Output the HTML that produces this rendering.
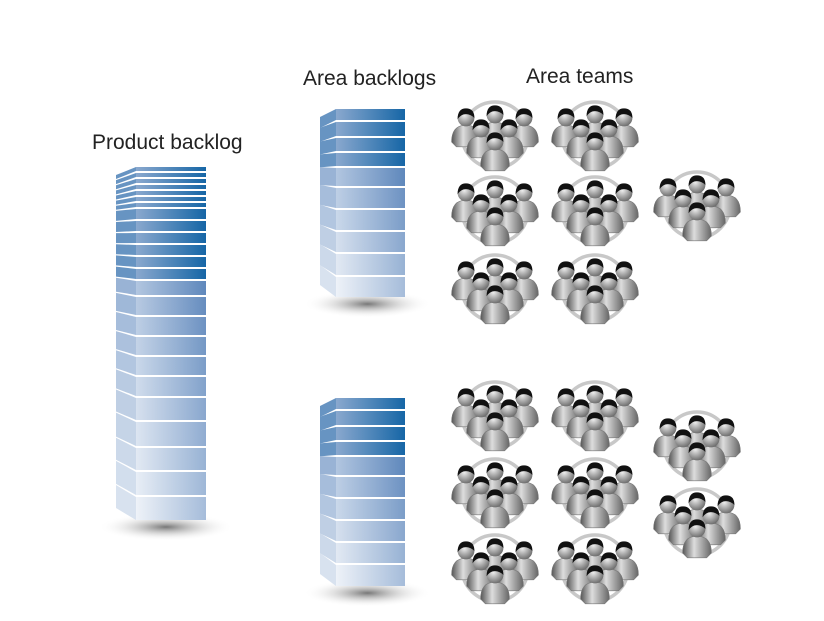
<!DOCTYPE html>
<html><head><meta charset="utf-8"><style>
html,body{margin:0;padding:0;background:#fff}
svg{display:block}
text{font-family:"Liberation Sans",sans-serif;font-size:21px;fill:#222}
</style></head><body>
<svg id="s" width="824" height="621" viewBox="0 0 824 621" xmlns="http://www.w3.org/2000/svg">
<defs>
<radialGradient id="sh" cx="50%" cy="50%" r="50%"><stop offset="0" stop-color="#555" stop-opacity=".8"/><stop offset="1" stop-color="#fff" stop-opacity="0"/></radialGradient>
<radialGradient id="hd" cx="40%" cy="35%" r="70%"><stop offset="0" stop-color="#eee"/><stop offset="1" stop-color="#666"/></radialGradient>
<linearGradient id="bd" x1="0" y1="0" x2="1" y2="0"><stop offset="0" stop-color="#555"/><stop offset=".4" stop-color="#ddd"/><stop offset="1" stop-color="#666"/></linearGradient>
<g id="p" transform="scale(1.2)">
<path d="M-12 20 Q-12 6 0 6 Q12 6 12 20 L8 24 L-8 24 Z" fill="url(#bd)" stroke="#777" stroke-width=".5"/>
<circle cx="0" cy="0" r="7" fill="url(#hd)"/>
<path d="M-7 1 Q-7 -8 0 -8 Q7 -8 7 0 Q3 -4 -2 -3 Q-5 -2 -7 1Z" fill="#111"/>
</g>
<g id="t">
<circle r="33" fill="none" stroke="#c8c8c8" stroke-width="3.5"/>
<use href="#p" x="-29" y="-17"/><use href="#p" x="29" y="-17"/><use href="#p" x="0" y="-20"/>
<use href="#p" x="-14" y="-6"/><use href="#p" x="14" y="-6"/><use href="#p" x="0" y="7"/>
</g>
</defs>
<text x="92" y="149">Product backlog</text>
<text x="303" y="85">Area backlogs</text>
<text x="526" y="83">Area teams</text>
</svg>
<script>
var s=document.getElementById('s'),ns='http://www.w3.org/2000/svg',gid=0;
function el(n,a){var e=document.createElementNS(ns,n);for(var k in a)e.setAttribute(k,a[k]);s.appendChild(e);return e}
function mixA(a,b,t){return a.map((v,i)=>Math.round(v+(b[i]-v)*t))}
function rgb(a){return 'rgb('+a.join(',')+')'}
var DL=[138,168,206],DR=[22,102,166],ML=[178,198,224],MR=[95,136,188],LL=[238,242,248],LR=[165,188,218];
function stack(S0,F0,F1,ys,darkN){
 var n=ys.length-1;
 el('ellipse',{cx:(S0+F1)/2+5,cy:ys[n]+6,rx:(F1-S0)*0.75,ry:14,fill:'url(#sh)'});
 for(var i=0;i<n;i++){
  var y0=ys[i]+1,y1=ys[i+1]-1,dark=i<darkN;
  var t=dark?0:(i-darkN)/Math.max(1,(n-1-darkN));
  var L=dark?DL:mixA(ML,LL,t), R=dark?DR:mixA(MR,LR,t);
  var id='g'+(gid++);
  var g=el('linearGradient',{id:id,x1:0,y1:0,x2:1,y2:0});
  var a=document.createElementNS(ns,'stop');a.setAttribute('offset',0);a.setAttribute('stop-color',rgb(L));g.appendChild(a);
  var b=document.createElementNS(ns,'stop');b.setAttribute('offset',1);b.setAttribute('stop-color',rgb(R));g.appendChild(b);
  var k=8-20*(i/(n-1));
  el('polygon',{points:S0+','+(y0+k)+' '+F0+','+y0+' '+F0+','+y1+' '+S0+','+(y1+k),fill:rgb(mixA(L,R,0.3))});
  el('rect',{x:F0,y:y0,width:F1-F0,height:y1-y0,fill:'url(#'+id+')'});
 }
}
stack(116,136,206,[166,172,178,184,190,196,202,208,220,232,244,256,268,280,296,316,336,356,376,397,421,447,471,496,521],13);
stack(320,336,405,[108,121,137,152,167,187,209,231,253,276,298],4);
stack(320,336,405,[397,410,426,441,456,476,498,520,542,564,587],4);
[[495,135],[595,135],[495,210],[595,210],[697,205],[495,288],[595,288],[495,415],[595,415],[697,445],[495,492],[595,492],[697,522],[495,568],[595,568]].forEach(function(c){el('use',{href:'#t',x:c[0],y:c[1]})});
</script>
</body></html>
